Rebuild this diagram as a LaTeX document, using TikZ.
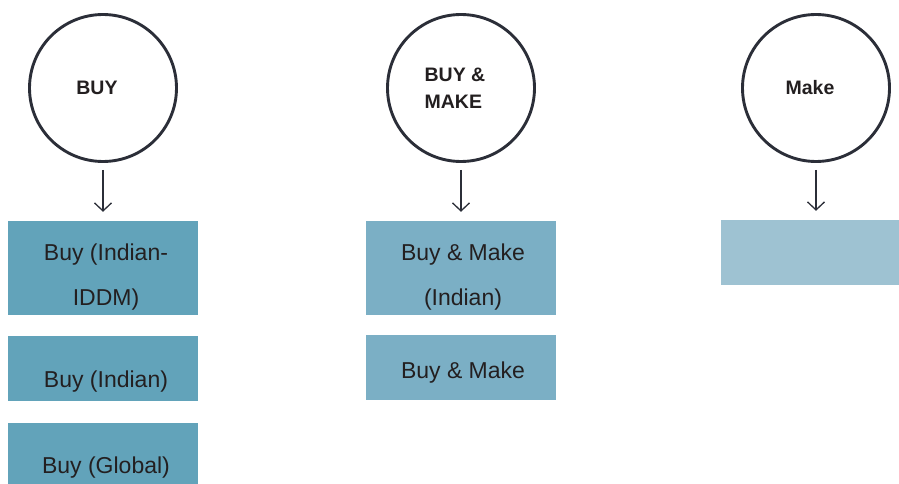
\documentclass[tikz,border=0pt]{standalone}
\usepackage{fontspec}
\setmainfont{Liberation Sans}
\usetikzlibrary{arrows.meta}
\definecolor{ringgray}{HTML}{2B2E38}
\definecolor{inktext}{HTML}{231F20}
\definecolor{buyteal}{HTML}{62A3BA}
\definecolor{mixteal}{HTML}{7BAFC5}
\definecolor{makeblue}{HTML}{9EC2D2}
\tikzset{
  choice/.style={circle, draw=ringgray, line width=2.9pt, minimum size=147pt,
    inner sep=0pt},
  ringtext/.style={text=inktext, align=left, xshift=-6pt,
    font=\bfseries\fontsize{19.5}{27}\selectfont},
  option/.style={minimum width=190pt, inner sep=0pt},
  optext/.style={text=inktext, align=center, font=\fontsize{23}{45}\selectfont},
  flow/.style={-{Straight Barb[length=8pt,width=17pt]}, draw=ringgray,
    line width=1.3pt, shorten <=7pt, shorten >=9pt}
}
\begin{document}
\begin{tikzpicture}[x=1pt,y=1pt]
	\useasboundingbox (0,0) rectangle (899,483);
	% the three choices
	\node[choice, label={[ringtext]center:{BUY}}] (buy) at (103,395) {};
	\node[choice, label={[ringtext]center:{BUY \&\\MAKE}}] (both) at (461,395) {};
	\node[choice, label={[ringtext]center:{Make}}] (make) at (816,395) {};
	% buy column
	\node[option, fill=buyteal, minimum height=94pt,
		label={[optext, xshift=3pt, yshift=-8.6pt]center:{Buy (Indian-\\IDDM)}}] (buyiddm) at (103,215) {};
	\node[option, fill=buyteal, minimum height=65pt,
		label={[optext, xshift=3pt, yshift=-12.6pt]center:{Buy (Indian)}}] (buyind) at (103,114.5) {};
	\node[option, fill=buyteal, minimum height=65pt,
		label={[optext, xshift=3pt, yshift=-11.6pt]center:{Buy (Global)}}] (buyglob) at (103,27.5) {};
	% buy and make column
	\node[option, fill=mixteal, minimum height=94pt,
		label={[optext, xshift=2pt, yshift=-8.6pt]center:{Buy \& Make\\(Indian)}}] (bothind) at (461,215) {};
	\node[option, fill=mixteal, minimum height=65pt,
		label={[optext, xshift=2pt, yshift=-4.6pt]center:{Buy \& Make}}] (bothplain) at (461,115.5) {};
	% make column
	\node[option, fill=makeblue, minimum height=65pt] (makeind) at (816,230.5) {};
	% arrows
	\draw[flow] (buy.south) -- (buyiddm.north);
	\draw[flow] (both.south) -- (bothind.north);
	\draw[flow] (make.south) -- (makeind.north);
\end{tikzpicture}
\end{document}
